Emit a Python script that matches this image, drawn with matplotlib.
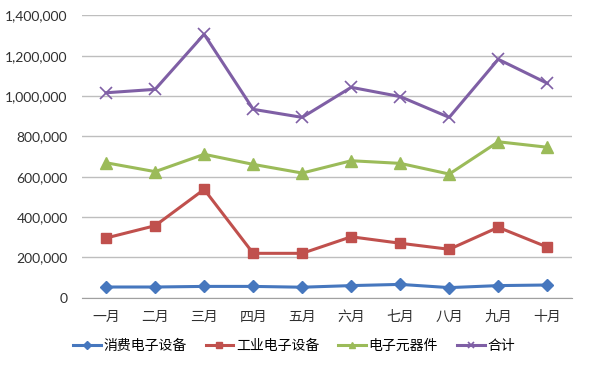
import matplotlib
matplotlib.use("Agg")
import matplotlib.pyplot as plt
from matplotlib.ticker import FuncFormatter

plt.rcParams['font.family'] = ['Noto Sans CJK SC', 'DejaVu Sans']

months = ["一月", "二月", "三月", "四月", "五月", "六月", "七月", "八月", "九月", "十月"]
consumer = [53000, 53000, 56000, 56000, 52000, 60000, 66000, 50000, 60000, 63000]
industrial = [296000, 357000, 537000, 220000, 220000, 302000, 270000, 240000, 349000, 251000]
components = [669000, 625000, 711000, 661000, 618000, 679000, 666000, 613000, 773000, 746000]
total = [1016000, 1033000, 1306000, 934000, 894000, 1043000, 997000, 894000, 1182000, 1063000]

series_names = ["消费电子设备", "工业电子设备", "电子元器件", "合计"]
yticks = [0, 200000, 400000, 600000, 800000, 1000000, 1200000, 1400000]

fig = plt.figure(figsize=(6, 3.7), dpi=100)
ax = fig.add_axes([0.136, 0.1954, 0.817, 0.7632])

x = list(range(len(months)))
styles = [
    (consumer, "#4677BE", "D", 6.5),
    (industrial, "#C0504D", "s", 7.5),
    (components, "#9BBB59", "^", 8),
    (total, "#7F5FA5", "x", 8),
]
for (vals, c, m, ms), name in zip(styles, series_names):
    kw = dict(markeredgewidth=1.2) if m == "x" else dict(markeredgecolor=c)
    ax.plot(x, vals, color=c, lw=2.2, marker=m, markersize=ms,
            markerfacecolor=c, label=name, **kw)

ax.set_xlim(-0.5, len(months) - 0.5)
ax.set_ylim(0, 1400000)
ax.set_yticks(yticks)
ax.yaxis.set_major_formatter(FuncFormatter(lambda v, p: f"{int(v):,}"))
ax.set_xticks(x)
ax.set_xticklabels(months)
ax.grid(axis="y", color="#BEBEBE", lw=1)
ax.set_axisbelow(True)
for s in ["top", "right", "left"]:
    ax.spines[s].set_visible(False)
ax.spines["bottom"].set_color("#A0A0A0")
ax.tick_params(axis="both", length=0, colors="#303030", labelsize=10)
ax.tick_params(axis="y", pad=10)
ax.tick_params(axis="x", pad=9)
for lab in ax.get_yticklabels():
    lab.set_family(["Lato", "DejaVu Sans"])

leg = fig.legend(loc="center", bbox_to_anchor=(0.49, 0.065), ncol=4, frameon=False,
                 fontsize=10, handlelength=2.0, columnspacing=1.35, handletextpad=0.2,
                 markerscale=0.6)

fig.savefig("out.png", dpi=100)
